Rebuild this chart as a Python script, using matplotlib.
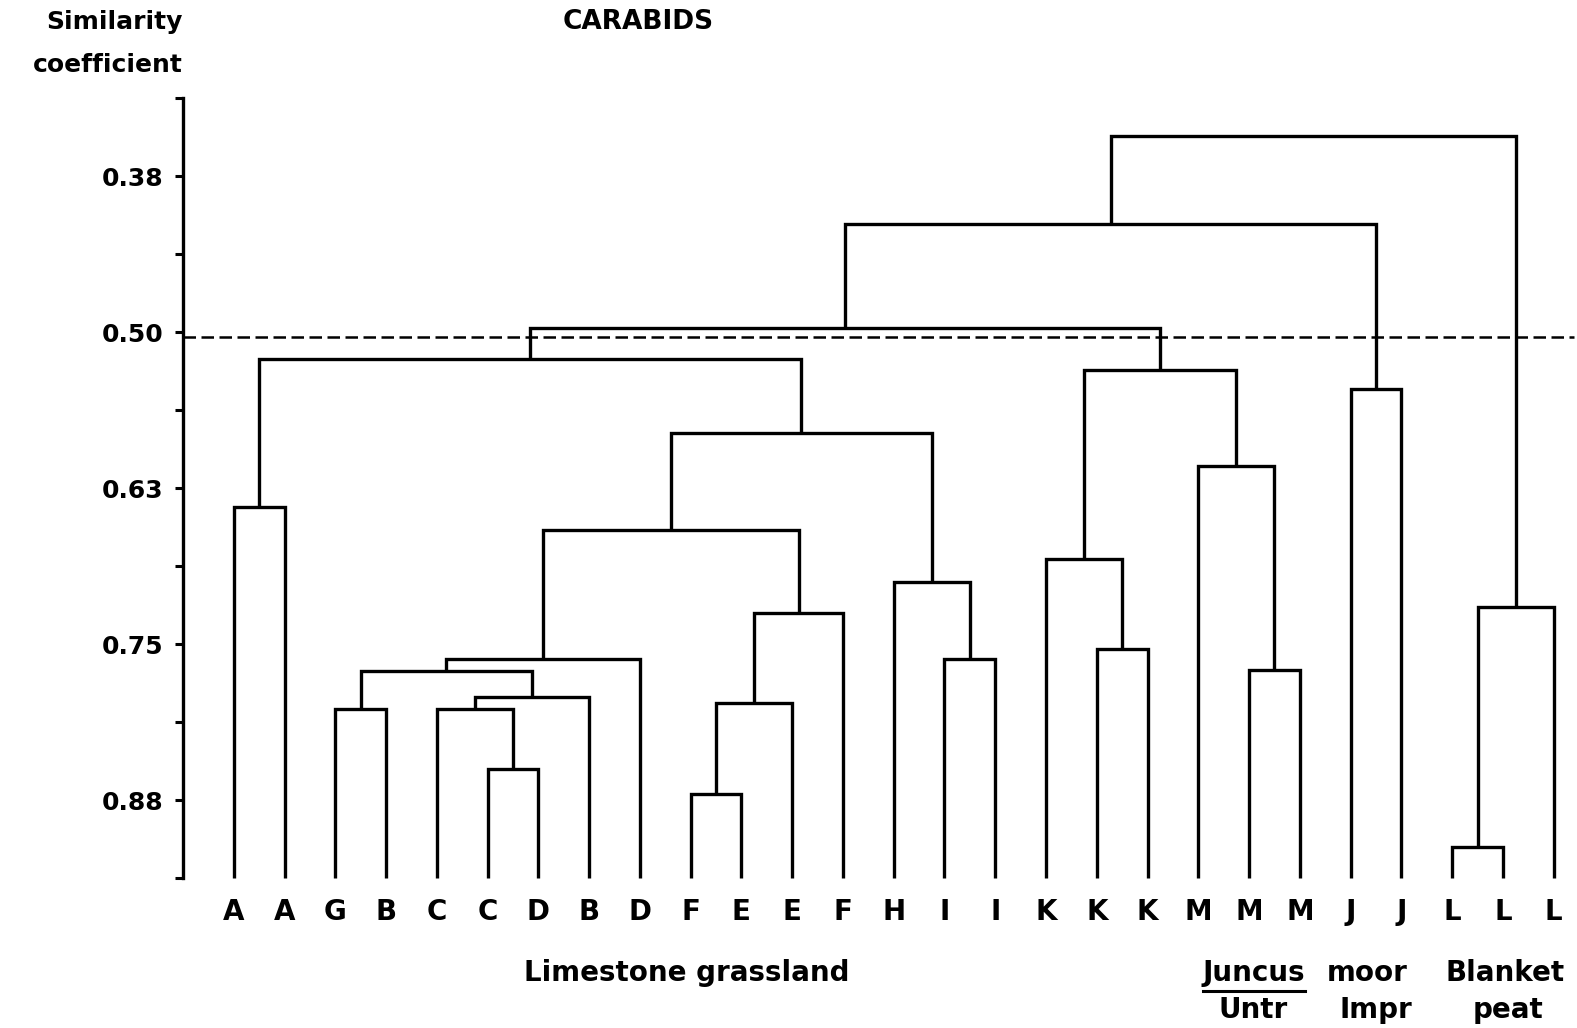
import numpy as np
import matplotlib.pyplot as plt
from matplotlib.lines import Line2D

# leaves along the bottom, left to right
leaf_labels = ['A', 'A', 'G', 'B', 'C', 'C', 'D', 'B', 'D', 'F', 'E', 'E', 'F', 'H',
               'I', 'I', 'K', 'K', 'K', 'M', 'M', 'M', 'J', 'J', 'L', 'L', 'L']

# merges: cluster ids 0..26 are leaves, merge k creates cluster 27+k
merge_left = [0, 2, 5, 4, 30, 28, 32, 9, 34, 35, 33, 14, 13, 37, 27, 17, 16, 20, 19, 43, 41, 22, 47, 24, 50, 49]
merge_right = [1, 3, 6, 29, 7, 31, 8, 10, 11, 12, 36, 15, 38, 39, 40, 18, 42, 21, 44, 45, 46, 23, 48, 25, 26, 51]
merge_height = [0.640, 0.802, 0.850, 0.802, 0.7925, 0.7715, 0.762, 0.870, 0.797, 0.725,
                0.6587, 0.762, 0.700, 0.581, 0.5216, 0.754, 0.682, 0.771, 0.607, 0.5305,
                0.4968, 0.5458, 0.4137, 0.9125, 0.7206, 0.3428]

cut_level = 0.504
major_ticks = [0.375, 0.50, 0.625, 0.75, 0.875]
major_labels = ['0.38', '0.50', '0.63', '0.75', '0.88']
minor_ticks = [0.3125, 0.4375, 0.5625, 0.6875, 0.8125, 0.9375]

W, H = 1577, 1028
fig = plt.figure(figsize=(W / 100, H / 100), dpi=100)
ax = fig.add_axes([183 / W, 1 - 878 / H, (1574 - 183) / W, (878 - 98) / H])

bold = dict(family='DejaVu Sans', fontweight='bold', color='black')
lw = 2.4
ybot = 0.9375

n = len(leaf_labels)
xpos = {i: float(i) for i in range(n)}
ypos = {i: ybot for i in range(n)}
for k, (a, b, h) in enumerate(zip(merge_left, merge_right, merge_height)):
    ax.plot([xpos[a], xpos[a], xpos[b], xpos[b]], [ypos[a], h, h, ypos[b]],
            color='black', lw=lw, solid_joinstyle='miter', solid_capstyle='butt', clip_on=False)
    xpos[n + k] = (xpos[a] + xpos[b]) / 2
    ypos[n + k] = h

# cut-off line
ax.plot([-1, 26.4], [cut_level, cut_level], color='black', lw=1.8, dashes=(5, 2.2), clip_on=False)

ax.set_xlim(-1, 26.4)
ax.set_ylim(0.9375, 0.3125)
for s in ['top', 'right', 'bottom']:
    ax.spines[s].set_visible(False)
ax.spines['left'].set_linewidth(lw)
ax.set_xticks([])
ax.set_yticks(major_ticks)
ax.set_yticklabels(major_labels, **bold, fontsize=18)
ax.set_yticks(minor_ticks, minor=True)
ax.tick_params(axis='y', which='both', direction='out', length=6, width=2.2, pad=8)

for i, lab in enumerate(leaf_labels):
    ax.text(i, 0.9375 + 0.027, lab, ha='center', va='center', fontsize=20, clip_on=False, **bold)

def ftext(x, y, s, size=20, ha='center'):
    return fig.text(x / W, 1 - y / H, s, ha=ha, va='center', fontsize=size, **bold)

ftext(183, 22, 'Similarity', size=18, ha='right')
ftext(183, 65, 'coefficient', size=18, ha='right')
ftext(638, 22, 'CARABIDS', size=19)
ftext(687, 973, 'Limestone grassland')
tj = ftext(1254, 973, 'Juncus')
ftext(1367, 973, 'moor')
ftext(1505, 973, 'Blanket')
ftext(1253, 1010, 'Untr')
ftext(1376, 1010, 'Impr')
ftext(1508, 1010, 'peat')

# underline for Juncus
fig.canvas.draw()
bb = tj.get_window_extent(fig.canvas.get_renderer())
yline = 1 - 991 / H
fig.add_artist(Line2D([bb.x0 / W, bb.x1 / W], [yline, yline], color='black', lw=2.2))

fig.savefig('out.png', dpi=100)
